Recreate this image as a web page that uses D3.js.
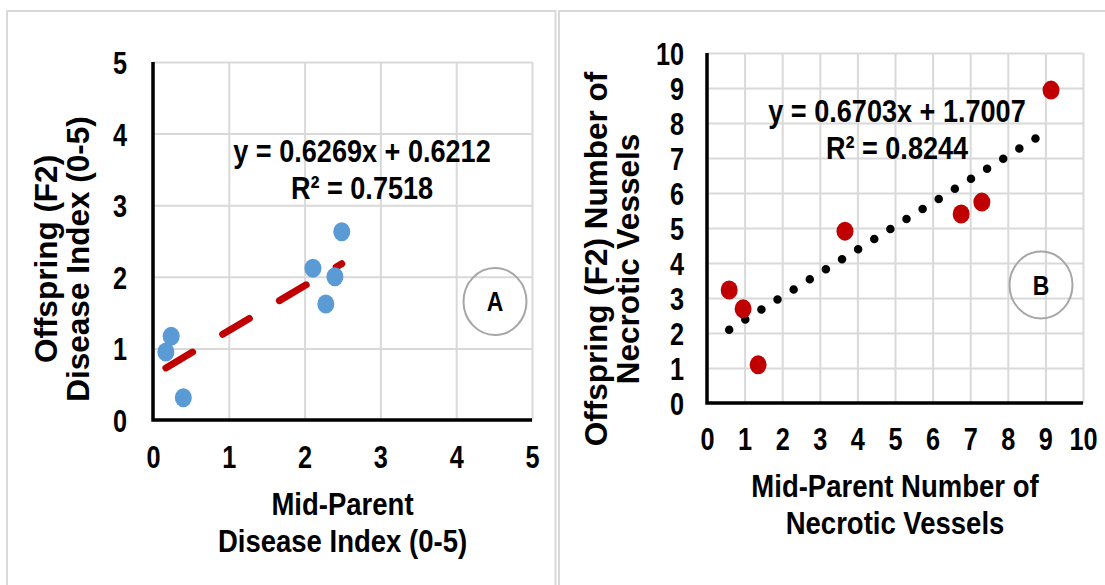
<!DOCTYPE html>
<html>
<head>
<meta charset="utf-8">
<script src="https://cdn.jsdelivr.net/npm/d3@7"></script>
<style>
  body { margin: 0; background: #fff; }
  svg text { font-family: "Liberation Sans", Arial, sans-serif; font-weight: bold; fill: #000; }
</style>
</head>
<body>
<script>
// panel A: disease index
const aX = [0.17, 0.24, 0.40, 2.11, 2.28, 2.40, 2.49];
const aY = [0.95, 1.17, 0.31, 2.12, 1.62, 2.00, 2.63];
const aFit = {slope: 0.6269, intercept: 0.6212, r2: 0.7518};
const aTicks = [0, 1, 2, 3, 4, 5];

// panel B: necrotic vessels
const bX = [0.59, 0.96, 1.36, 3.67, 6.76, 7.31, 9.15];
const bY = [3.23, 2.69, 1.09, 4.91, 5.40, 5.74, 8.94];
const bFit = {slope: 0.6703, intercept: 1.7007, r2: 0.8244};
const bTicks = [0, 1, 2, 3, 4, 5, 6, 7, 8, 9, 10];

const width = 1105, height = 585;

const svg = d3.select("body").append("svg")
  .attr("width", width)
  .attr("height", height);

// panel frames
svg.append("rect").attr("x", 7).attr("y", 11).attr("width", 548.5).attr("height", 600)
  .attr("fill", "none").attr("stroke", "#d9d9d9").attr("stroke-width", 2);
svg.append("rect").attr("x", 559).attr("y", 11).attr("width", 600).attr("height", 600)
  .attr("fill", "none").attr("stroke", "#d9d9d9").attr("stroke-width", 2);

function htext(g, x, y, str, size, sx) {
  return g.append("text")
    .attr("transform", "translate(" + x + "," + y + ") scale(" + sx + ",1)")
    .attr("text-anchor", "middle")
    .style("font-size", size + "px")
    .text(str);
}

function panel(cfg) {
  const x = d3.scaleLinear().domain([0, cfg.max]).range(cfg.xr);
  const y = d3.scaleLinear().domain([0, cfg.max]).range(cfg.yr);
  const g = svg.append("g");

  // gridlines
  g.append("g")
    .attr("transform", "translate(0," + cfg.yr[0] + ")")
    .call(d3.axisBottom(x).tickValues(cfg.ticks).tickSize(-(cfg.yr[0] - cfg.yr[1])).tickFormat(""))
    .call(a => a.select(".domain").remove())
    .call(a => a.selectAll("line").attr("stroke", "#d9d9d9").attr("stroke-width", 2));
  g.append("g")
    .attr("transform", "translate(" + cfg.xr[0] + ",0)")
    .call(d3.axisLeft(y).tickValues(cfg.ticks).tickSize(-(cfg.xr[1] - cfg.xr[0])).tickFormat(""))
    .call(a => a.select(".domain").remove())
    .call(a => a.selectAll("line").attr("stroke", "#d9d9d9").attr("stroke-width", 2));

  // tick labels
  g.append("g")
    .attr("transform", "translate(0," + cfg.yr[0] + ")")
    .call(d3.axisBottom(x).tickValues(cfg.ticks).tickFormat(d3.format("d")).tickSize(0))
    .attr("font-size", null).attr("font-family", null)
    .call(a => a.select(".domain").remove())
    .call(a => a.selectAll("text").attr("y", null).attr("dy", null)
      .attr("transform", "translate(0," + cfg.xLabOff + ") scale(0.79,1)")
      .style("font-size", "32px"));
  g.append("g")
    .attr("transform", "translate(" + cfg.xr[0] + ",0)")
    .call(d3.axisLeft(y).tickValues(cfg.ticks).tickFormat(d3.format("d")).tickSize(0))
    .attr("font-size", null).attr("font-family", null)
    .call(a => a.select(".domain").remove())
    .call(a => a.selectAll("text").attr("x", null).attr("dy", "0.36em")
      .attr("transform", "translate(" + (-cfg.yLabOff) + ",0) scale(0.79,1)")
      .style("font-size", "32px"));

  // axis lines
  g.append("path")
    .attr("d", d3.line()([[cfg.xr[0], cfg.yr[1]], [cfg.xr[0], cfg.yr[0]], [cfg.xr[1], cfg.yr[0]]]))
    .attr("fill", "none").attr("stroke", "#000").attr("stroke-width", 3.5);

  // trendline
  const fx = d3.extent(cfg.xs);
  g.append("line")
    .attr("x1", x(fx[0])).attr("y1", y(cfg.fit.slope * fx[0] + cfg.fit.intercept))
    .attr("x2", x(fx[1])).attr("y2", y(cfg.fit.slope * fx[1] + cfg.fit.intercept))
    .attr("stroke", cfg.lineColor)
    .attr("stroke-width", cfg.lineWidth)
    .attr("stroke-linecap", "round")
    .attr("stroke-dasharray", cfg.dash);

  // points
  g.selectAll(".pt").data(cfg.xs.map((v, i) => [v, cfg.ys[i]]))
    .join("ellipse")
    .attr("class", "pt")
    .attr("cx", d => x(d[0])).attr("cy", d => y(d[1]))
    .attr("rx", 8.5).attr("ry", 9.5)
    .attr("fill", cfg.ptColor);

  // equation
  htext(g, cfg.eq[0], cfg.eq[1], "y = " + cfg.fit.slope.toFixed(4) + "x + " + cfg.fit.intercept.toFixed(4), 31.5, 0.86);
  htext(g, cfg.eq[0], cfg.eq[1] + 37, "R\u00b2 = " + cfg.fit.r2.toFixed(4), 31.5, 0.86);

  // letter badge
  g.append("ellipse")
    .attr("cx", cfg.badge[0]).attr("cy", cfg.badge[1]).attr("rx", 31.5).attr("ry", 33.5)
    .attr("fill", "none").attr("stroke", "#a6a6a6").attr("stroke-width", 2);
  htext(g, cfg.badge[0], cfg.badge[1] + 9.5, cfg.letter, 27, 0.85);

  // axis titles
  cfg.xTitle.forEach((t, i) => htext(g, (cfg.xr[0] + cfg.xr[1]) / 2, cfg.xTitleY + i * 37, t, 32, 0.86));
  cfg.yTitle.forEach((t, i) => g.append("text")
    .attr("transform", "translate(" + cfg.yTitleX[i] + ",259) rotate(-90)")
    .attr("text-anchor", "middle")
    .style("font-size", "31.5px")
    .text(t));
}

panel({
  max: 5, ticks: aTicks, xr: [153, 532], yr: [420, 62],
  xs: aX, ys: aY, fit: aFit,
  ptColor: "#5b9bd5", lineColor: "#c00000", lineWidth: 7, dash: "31,35",
  xLabOff: 48, yLabOff: 26,
  eq: [362, 162], badge: [495, 301.5], letter: "A",
  xTitle: ["Mid-Parent", "Disease Index (0-5)"], xTitleY: 515,
  yTitle: ["Offspring (F2)", "Disease Index (0-5)"], yTitleX: [57, 89]
});

panel({
  max: 10, ticks: bTicks, xr: [707, 1083], yr: [403, 53],
  xs: bX, ys: bY, fit: bFit,
  ptColor: "#c00000", lineColor: "#000", lineWidth: 8.5, dash: "0,19",
  xLabOff: 47, yLabOff: 23,
  eq: [897, 122], badge: [1041, 285], letter: "B",
  xTitle: ["Mid-Parent Number of", "Necrotic Vessels"], xTitleY: 497,
  yTitle: ["Offspring (F2) Number of", "Necrotic Vessels"], yTitleX: [607, 639]
});
</script>
</body>
</html>
